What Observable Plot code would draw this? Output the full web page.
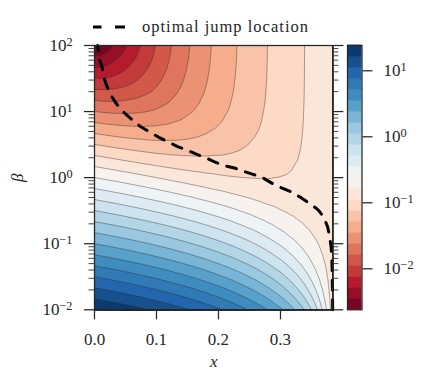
<!DOCTYPE html>
<html><head><meta charset="utf-8">
<script src="https://cdn.jsdelivr.net/npm/d3@7"></script>
<script src="https://cdn.jsdelivr.net/npm/@observablehq/plot@0.6"></script>
<style>
html,body{margin:0;padding:0;background:#fff;}
#wrap{position:relative;width:431px;height:384px;font-family:'Liberation Serif','DejaVu Serif','Noto Serif','Times New Roman',serif;color:#262626;overflow:hidden;}
#main,#cbar,#legend{position:absolute;top:0;}
#main{left:0}
#cbar{left:332px}
#legend{left:0}
#wrap svg text{font-family:'Liberation Serif','DejaVu Serif','Noto Serif','Times New Roman',serif;}
g[aria-label="x-axis label"] text, g[aria-label="y-axis label"] text{font-style:italic}
</style></head><body>
<div id="wrap">
  <div id="main"></div>
  <div id="cbar"></div>
  <svg id="legend" width="431" height="40">
    <line x1="93" y1="27" x2="125" y2="27" stroke="#000" stroke-width="3" stroke-dasharray="8.5 13.5 10 100"/>
    <text x="142" y="32" font-size="16.5" fill="#262626" textLength="166" lengthAdjust="spacing">optimal jump location</text>
  </svg>
</div>
<script>
// ---- data ----
// x columns where the field was read
const xCols = [0, 0.01, 0.02, 0.03, 0.04, 0.05, 0.065, 0.08, 0.10, 0.12, 0.14, 0.16, 0.18, 0.20, 0.22, 0.24, 0.26, 0.28, 0.30, 0.315, 0.33, 0.34, 0.35, 0.357, 0.364, 0.37, 0.375, 0.379, 0.382, 0.3844];
// value * beta as beta -> 0 (read along the bottom / left edge)
const lowBetaScale = [0.2415, 0.2321, 0.2229, 0.2138, 0.2048, 0.1960, 0.1829, 0.1702, 0.1537, 0.1378, 0.1224, 0.1077, 0.0936, 0.0802, 0.0676, 0.0556, 0.0445, 0.0342, 0.0249, 0.0185, 0.0129, 0.00948, 0.00647, 0.00460, 0.00295, 0.00175, 0.00092, 0.00040, 0.00012, 0];
// value as beta -> infinity (read along the top edge)
const highBetaLimit = [0, 0.00025, 0.0007, 0.00135, 0.0021, 0.0030, 0.0046, 0.0066, 0.0098, 0.0140, 0.0190, 0.0248, 0.0314, 0.0388, 0.0469, 0.0559, 0.0656, 0.0760, 0.0873, 0.0962, 0.1056, 0.1121, 0.1188, 0.1236, 0.1285, 0.1328, 0.1364, 0.1393, 0.1415, 0.1433];
// log10(beta) rows of the sampling grid
const logBetaRows = [-2, -1.875, -1.75, -1.625, -1.5, -1.375, -1.25, -1.125, -1, -0.875, -0.75, -0.625, -0.5, -0.375, -0.25, -0.125, 0, 0.125, 0.25, 0.375, 0.5, 0.625, 0.75, 0.875, 1, 1.125, 1.25, 1.375, 1.5, 1.625, 1.75, 1.875, 2];
// contour levels (log10 of value)
const levelLog = [-2.621, -2.454, -2.287, -2.121, -1.954, -1.787, -1.620, -1.453, -1.286, -1.120, -0.953, -0.786, -0.619, -0.452, -0.285, -0.119, 0.048, 0.215, 0.382, 0.549, 0.716, 0.882, 1.049, 1.216, 1.383];
// optimal jump location (dashed line)
const jumpX = [0.3842, 0.3839, 0.383, 0.3818, 0.379, 0.3763, 0.370, 0.3618, 0.359, 0.348, 0.332, 0.319, 0.300, 0.2866, 0.272, 0.257, 0.241, 0.2258, 0.2097, 0.195, 0.179, 0.166, 0.148, 0.134, 0.117, 0.1037, 0.0876, 0.074, 0.061, 0.047, 0.0355, 0.0285, 0.0194, 0.015, 0.0124, 0.0085, 0.005];
const jumpBeta = [0.01, 0.0195, 0.055, 0.088, 0.132, 0.177, 0.251, 0.316, 0.336, 0.40, 0.504, 0.598, 0.713, 0.82, 0.989, 1.11, 1.245, 1.40, 1.52, 1.71, 2.0, 2.23, 2.63, 2.95, 3.55, 4.08, 5.01, 5.93, 7.48, 9.77, 13.1, 16.5, 24.8, 33.1, 46.9, 59.3, 100];
// ticks
const xTicks = [0, 0.1, 0.2, 0.3];
const xTickLabels = ["0.0", "0.1", "0.2", "0.3"];
const yTicks = [0.01, 0.1, 1, 10, 100];
const yTickLabels = ["10^\u22122", "10^\u22121", "10^0", "10^1", "10^2"];
const cbTicks = [0.01, 0.1, 1, 10];
const cbTickLabels = ["10^\u22122", "10^\u22121", "10^0", "10^1"];

// ---- styles ----
const rdbu = ["#67001f", "#b2182b", "#d6604d", "#f4a582", "#fddbc7", "#f7f7f7", "#d1e5f0", "#92c5de", "#4393c3", "#2166ac", "#053061"];
const layerOffset = 0.0914;
const ink = "#262626";

// ---- tables built from the arrays ----
const field = [];
xCols.forEach((x, i) => {
  for (const lb of logBetaRows) {
    const beta = Math.pow(10, lb);
    field.push({x, beta, L: Math.log10(lowBetaScale[i] / beta + highBetaLimit[i])});
  }
});
const jumpPts = jumpX.map((x, i) => ({x, beta: jumpBeta[i]}));
const yMinor = yTicks.slice(0, 4).flatMap(d => [2, 3, 4, 5, 6, 7, 8, 9].map(k => k * d));
const fillLevels = levelLog.slice(0, levelLog.length - 1);
const lineLevels = levelLog.slice(1, levelLog.length - 1);
const cbBands = fillLevels.map((t, k) => ({lo: Math.pow(10, t), hi: Math.pow(10, levelLog[k + 1]), t}));

const colorScale = {
  type: "linear",
  domain: [levelLog[0] - layerOffset, levelLog[levelLog.length - 1] - layerOffset],
  interpolate: d3.piecewise(d3.interpolateRgb, rdbu),
  clamp: true
};
const fontStyle = {fontSize: "17px", color: ink, background: "none", overflow: "visible"};

const main = Plot.plot({
  width: 431, height: 384,
  marginLeft: 94, marginRight: 98.7, marginTop: 45, marginBottom: 74.7,
  style: fontStyle,
  x: {domain: [0, 0.3844]},
  y: {type: "log", domain: [0.01, 100]},
  color: colorScale,
  marks: [
    Plot.contour(field, {x: "x", y: "beta", fill: "L", interpolate: "barycentric", thresholds: fillLevels, pixelSize: 1}),
    Plot.contour(field, {x: "x", y: "beta", value: "L", interpolate: "barycentric", thresholds: lineLevels, pixelSize: 1, fill: "none", stroke: "#2a2a2a", strokeWidth: 0.55, strokeOpacity: 0.75}),
    Plot.line(jumpPts, {x: "x", y: "beta", stroke: "#000", strokeWidth: 3, strokeDasharray: "10 9.5"}),
    Plot.frame({stroke: ink, strokeWidth: 1.25}),
    Plot.axisY(yTicks, {anchor: "left", tickSize: 10, tickPadding: 12, stroke: ink, strokeWidth: 1.25,
      tickFormat: d => yTickLabels[yTicks.indexOf(d)], label: "\u03b2", labelAnchor: "center", labelOffset: 84, labelArrow: "none"}),
    Plot.axisY(yMinor, {anchor: "left", tickSize: 5.5, stroke: ink, strokeWidth: 1, strokeOpacity: 0.85, tickFormat: () => "", label: null}),
    Plot.axisY(yTicks, {anchor: "right", tickSize: 10, stroke: ink, strokeWidth: 1.25, tickFormat: () => "", label: null}),
    Plot.axisY(yMinor, {anchor: "right", tickSize: 5, stroke: ink, strokeWidth: 1, strokeOpacity: 0.85, tickFormat: () => "", label: null}),
    Plot.axisX(xTicks, {anchor: "bottom", tickSize: 10, tickPadding: 13.5, stroke: ink, strokeWidth: 1.25,
      tickFormat: d => xTickLabels[xTicks.indexOf(d)], label: "x", labelAnchor: "center", labelOffset: 57, labelArrow: "none"})
  ]
});

const cbar = Plot.plot({
  width: 99, height: 384,
  marginLeft: 15, marginRight: 69.5, marginTop: 45, marginBottom: 74.7,
  style: fontStyle,
  y: {type: "log", domain: [Math.pow(10, levelLog[0]), Math.pow(10, levelLog[levelLog.length - 1])]},
  color: colorScale,
  marks: [
    Plot.rect(cbBands, {y1: "lo", y2: "hi", fill: "t", insetTop: -0.4, insetBottom: -0.4}),
    Plot.frame({stroke: ink, strokeWidth: 1.25}),
    Plot.axisY(cbTicks, {anchor: "right", tickSize: 10, tickPadding: 11.5, stroke: ink, strokeWidth: 1.25,
      tickFormat: d => cbTickLabels[cbTicks.indexOf(d)], label: null})
  ]
});

function supify(svg) {
  svg.querySelectorAll("text").forEach(t => {
    const m = /^10\^(.+)$/.exec(t.textContent);
    if (!m) return;
    t.textContent = "10";
    const ts = document.createElementNS("http://www.w3.org/2000/svg", "tspan");
    ts.setAttribute("dy", "-0.42em");
    ts.setAttribute("style", "font-size:72%");
    ts.textContent = m[1];
    t.appendChild(ts);
  });
}
supify(main); supify(cbar);
document.getElementById("main").appendChild(main);
document.getElementById("cbar").appendChild(cbar);
</script>
</body></html>
